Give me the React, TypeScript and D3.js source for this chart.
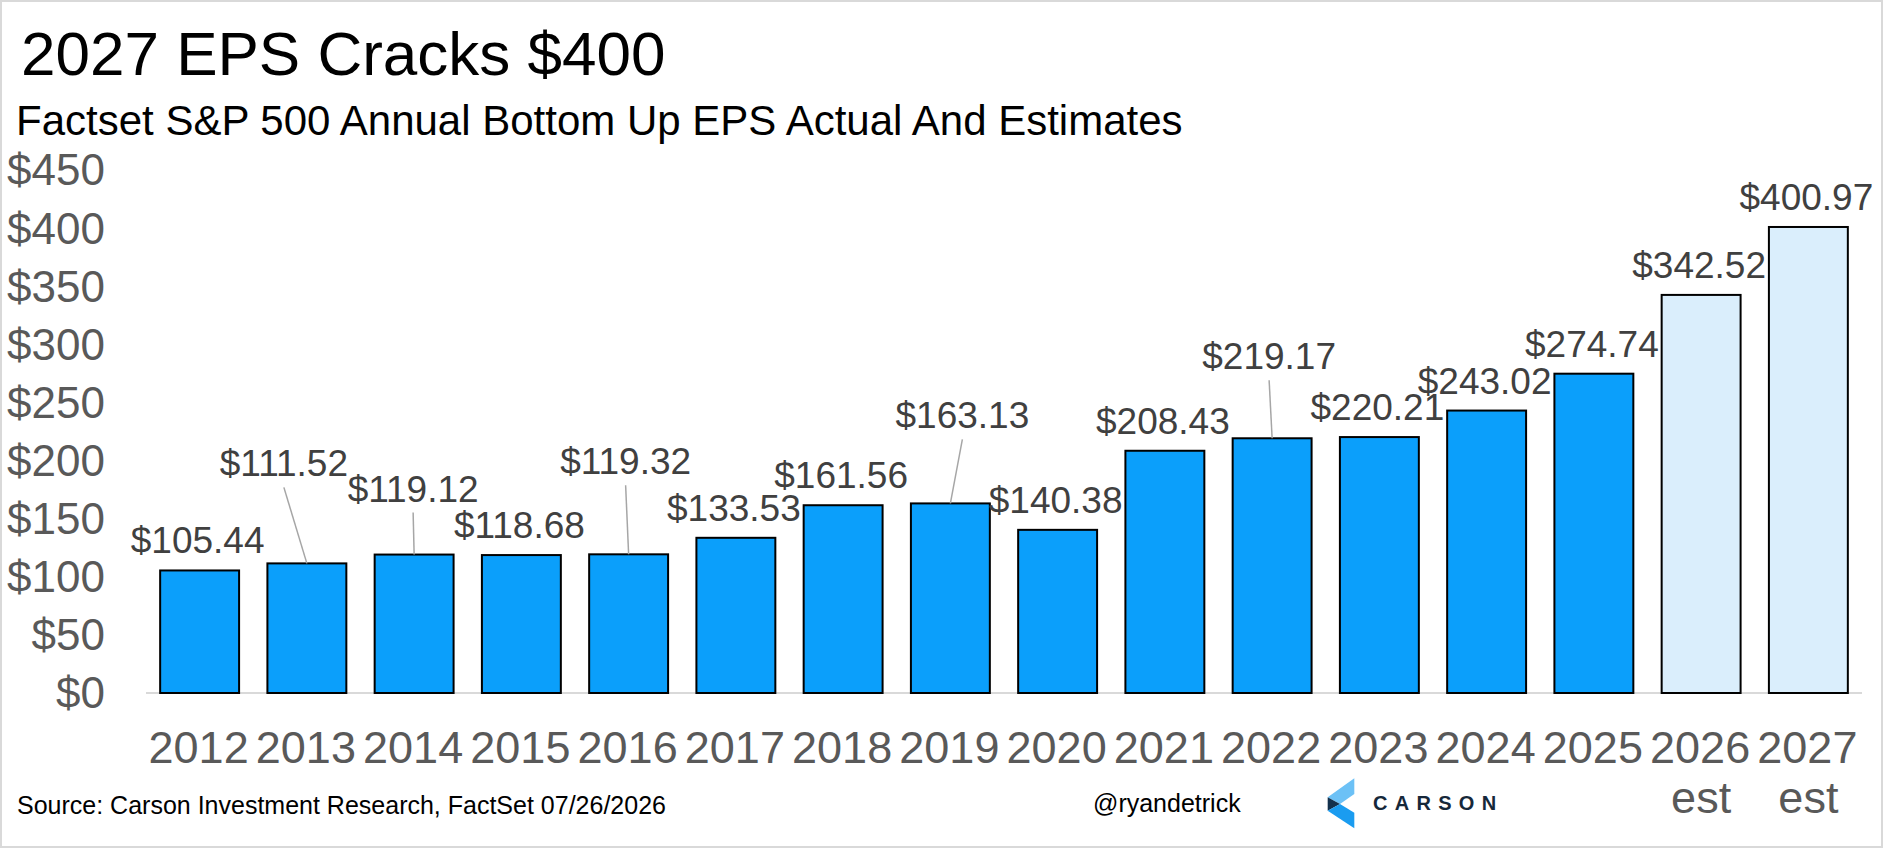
import React from "react";
import * as d3 from "d3";

// ---- data ----
const years: string[] = ["2012","2013","2014","2015","2016","2017","2018","2019","2020","2021","2022","2023","2024","2025","2026","2027"];
const eps: number[] = [105.44,111.52,119.12,118.68,119.32,133.53,161.56,163.13,140.38,208.43,219.17,220.21,243.02,274.74,342.52,400.97];
const isEstimate: boolean[] = [false,false,false,false,false,false,false,false,false,false,false,false,false,false,true,true];
const yTicks: number[] = [0,50,100,150,200,250,300,350,400,450];

const title = "2027 EPS Cracks $400";
const subtitle = "Factset S&P 500 Annual Bottom Up EPS Actual And Estimates";
const source = "Source: Carson Investment Research, FactSet 07/26/2026";
const handle = "@ryandetrick";
const brand = "CARSON";

// ---- layout (label nudges in px, not data) ----
const W = 1883, H = 848;
const plot = { left: 146, right: 1862, top: 170, bottom: 693 };
const labelNudge: Record<string, [number, number]> = {
  "2013": [-23, -70],
  "2014": [-1, -36],
  "2016": [-3, -63],
  "2019": [12, -58],
  "2022": [-3, -52],
};
const leaderYears = ["2013", "2014", "2016", "2019", "2022"];
const FONT = "'Liberation Sans', Arial, sans-serif";

export default function App() {
  const x = d3.scaleBand<string>().domain(years).range([plot.left, plot.right]).paddingInner(0.264).paddingOuter(0.132);
  const y = d3.scaleLinear().domain([0, 450]).range([plot.bottom, plot.top]);
  const bw = x.bandwidth();

  return (
    <svg width={W} height={H} style={{ position: "absolute", left: 0, top: 0, background: "#fff" }} fontFamily={FONT}>
      <rect x={0} y={0} width={W} height={H} fill="#fff" />
      <rect x={1} y={1} width={W - 2} height={H - 2} fill="none" stroke="#d9d9d9" strokeWidth={2} />

      <text x={21} y={75} fontSize={62} fill="#000">{title}</text>
      <text x={16} y={135} fontSize={42} fill="#000">{subtitle}</text>

      {yTicks.map((t) => (
        <text key={t} x={105} y={y(t)} dy="0.35em" textAnchor="end" fontSize={44} fill="#595959">{`$${t}`}</text>
      ))}

      <line x1={plot.left} x2={plot.right} y1={plot.bottom} y2={plot.bottom} stroke="#d9d9d9" strokeWidth={2} />

      {years.map((yr, i) => (
        <rect key={yr} x={x(yr)!} y={y(eps[i])} width={bw} height={y(0) - y(eps[i])}
          fill={isEstimate[i] ? "#daeefc" : "#0b9ffb"} stroke="#000" strokeWidth={2} />
      ))}

      {years.map((yr, i) => {
        const cx = x(yr)! + bw / 2;
        const top = y(eps[i]);
        const [dx, dy] = labelNudge[yr] || [-2, 0];
        const lx = cx + dx;
        const ly = top - 17 + dy;
        return (
          <g key={yr}>
            {leaderYears.includes(yr) && (
              <line x1={lx} y1={ly + 11} x2={cx} y2={top} stroke="#a6a6a6" strokeWidth={1.5} />
            )}
            <text x={lx} y={ly} textAnchor="middle" fontSize={37} fill="#404040">{`$${eps[i].toFixed(2)}`}</text>
          </g>
        );
      })}

      {years.map((yr, i) => {
        const cx = x(yr)! + bw / 2;
        return (
          <g key={yr}>
            <text x={cx - 1} y={763} textAnchor="middle" fontSize={45} fill="#595959">{yr}</text>
            {isEstimate[i] && <text x={cx} y={813} textAnchor="middle" fontSize={45} fill="#595959">est</text>}
          </g>
        );
      })}

      <text x={17} y={814} fontSize={25} fill="#000">{source}</text>
      <text x={1093} y={812} fontSize={25} fill="#000">{handle}</text>

      <g>
        <polygon points="1354.3,778.3 1327.7,797.3 1340,804 1354.3,794" fill="#6cc1f6" />
        <polygon points="1327.7,797.3 1340,804 1327.7,810.7" fill="#13314d" />
        <polygon points="1327.7,810.7 1340,804 1354.3,812.7 1354.3,828.3" fill="#1a9cf0" />
        <text x={1373} y={810} fontSize={20} fontWeight={600} letterSpacing={7.3} fill="#16283a">{brand}</text>
      </g>
    </svg>
  );
}
